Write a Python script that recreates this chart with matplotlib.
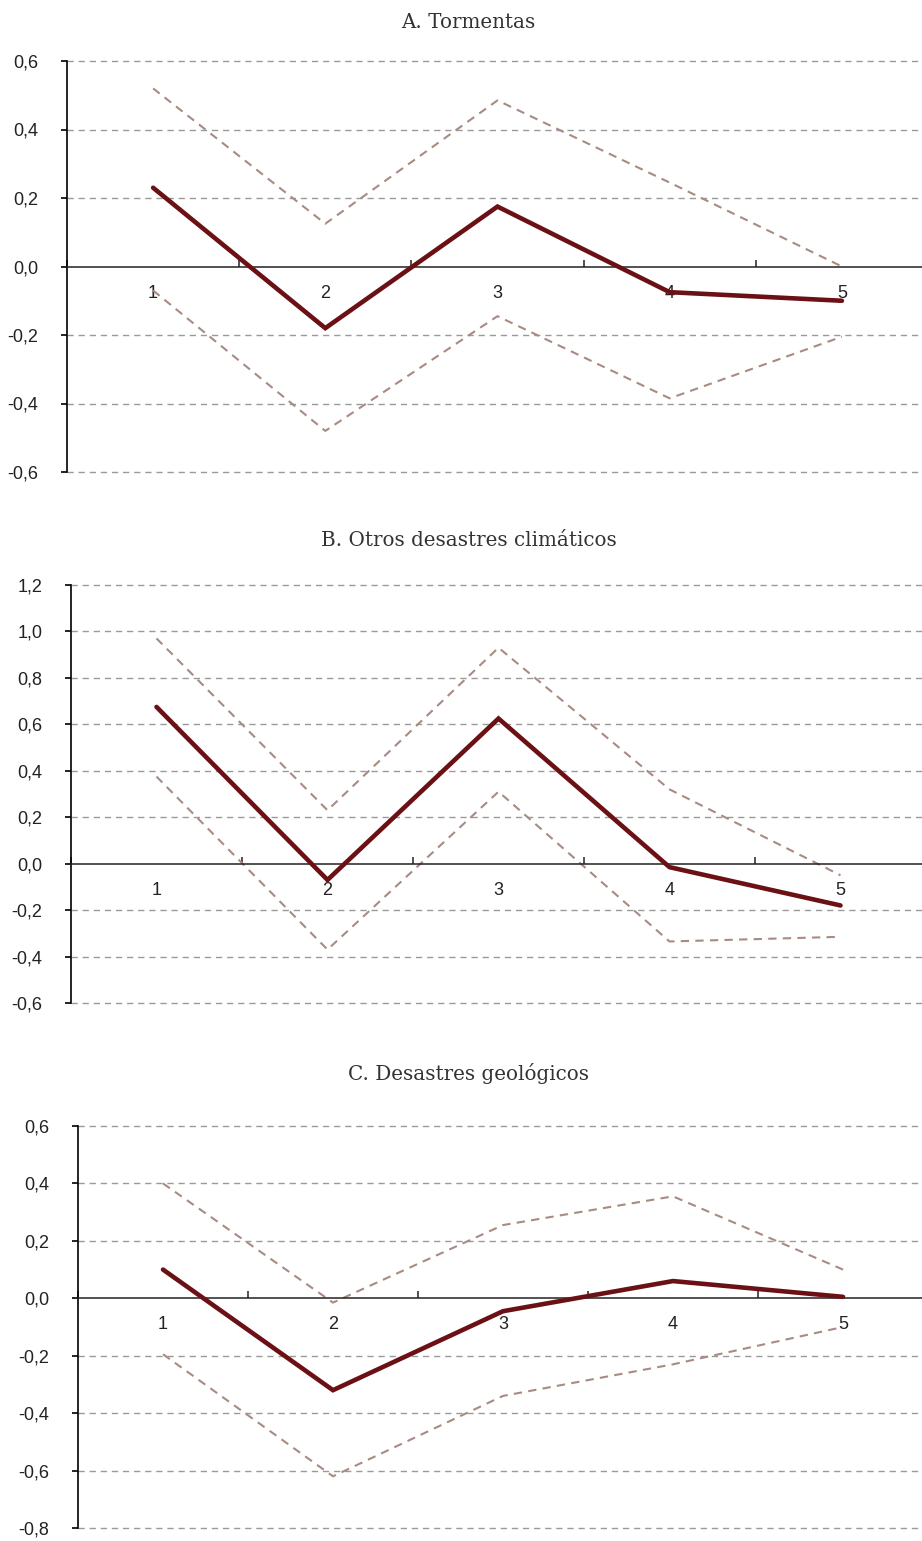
import matplotlib
matplotlib.use("Agg")
import matplotlib.pyplot as plt
import numpy as np
from matplotlib import font_manager

periods = [1, 2, 3, 4, 5]
period_labels = ["1", "2", "3", "4", "5"]

titles = ["A. Tormentas", "B. Otros desastres climáticos", "C. Desastres geológicos"]

a_mid = [0.23, -0.18, 0.175, -0.075, -0.10]
a_up = [0.52, 0.125, 0.485, 0.245, 0.0]
a_lo = [-0.07, -0.48, -0.145, -0.385, -0.205]

b_mid = [0.675, -0.07, 0.625, -0.015, -0.18]
b_up = [0.97, 0.23, 0.93, 0.32, -0.05]
b_lo = [0.375, -0.37, 0.31, -0.335, -0.315]

c_mid = [0.10, -0.32, -0.045, 0.06, 0.005]
c_up = [0.40, -0.015, 0.255, 0.355, 0.10]
c_lo = [-0.195, -0.62, -0.34, -0.23, -0.10]

a_yticks = [-0.6, -0.4, -0.2, 0.0, 0.2, 0.4, 0.6]
b_yticks = [-0.6, -0.4, -0.2, 0.0, 0.2, 0.4, 0.6, 0.8, 1.0, 1.2]
c_yticks = [-0.8, -0.6, -0.4, -0.2, 0.0, 0.2, 0.4, 0.6]

W, H = 922, 1541
fig = plt.figure(figsize=(W / 100, H / 100), dpi=100)

tick_family = ["Liberation Sans", "DejaVu Sans"]
title_family = ["DejaVu Serif"]

MID = "#6b1116"
CI = "#a88b82"
GRID = "#9a9a9a"

# pixel boxes: left, right, top(pix of ymax), bottom(pix of ymin)
boxes = [(67, 928, 61, 472), (71, 926, 585, 1003), (78, 928, 1126, 1528)]
title_y = [22, 541, 1073]
datasets = [(a_mid, a_up, a_lo, a_yticks), (b_mid, b_up, b_lo, b_yticks), (c_mid, c_up, c_lo, c_yticks)]

for i, ((mid, up, lo, yt), (l, r, t, b)) in enumerate(zip(datasets, boxes)):
    ax = fig.add_axes([l / W, 1 - b / H, (r - l) / W, (b - t) / H])
    ax.set_xlim(0.5, 5.5)
    ax.set_ylim(yt[0], yt[-1])
    for v in yt:
        if v != 0:
            ax.axhline(v, color=GRID, lw=1.0, ls=(0, (4.5, 3.5)), zorder=1, clip_on=False)
    ax.plot(periods, up, color=CI, lw=1.5, ls=(0, (4, 3)), zorder=2)
    ax.plot(periods, lo, color=CI, lw=1.5, ls=(0, (4, 3)), zorder=2)
    ax.plot(periods, mid, color=MID, lw=3.3, solid_capstyle="round", solid_joinstyle="miter", zorder=3)

    for s in ["top", "right"]:
        ax.spines[s].set_visible(False)
    ax.spines["bottom"].set_position(("data", 0))
    ax.spines["bottom"].set_color("#222222")
    ax.spines["bottom"].set_linewidth(1.1)
    ax.spines["left"].set_color("#000000")
    ax.spines["left"].set_linewidth(1.2)

    ax.set_yticks(yt)
    ax.set_yticklabels([f"{v:.1f}".replace(".", ",").replace("-0,0", "0,0") for v in yt],
                       family=tick_family, fontsize=13, color="#222222")
    ax.tick_params(axis="y", length=4.5, width=1.2, pad=16, color="#000000")

    ax.set_xticks([0.5, 1.5, 2.5, 3.5, 4.5])
    ax.set_xticklabels([])
    ax.tick_params(axis="x", which="major", length=5, width=1.1, direction="in", color="#222222")
    ax.set_xticks(periods, minor=True)
    ax.set_xticklabels(period_labels, minor=True, family=tick_family, fontsize=13, color="#222222")
    ax.tick_params(axis="x", which="minor", length=0, pad=13)

    fig.text(0.508, 1 - title_y[i] / H, titles[i], ha="center", va="center",
             family=title_family, fontsize=14.3, color="#333333")

fig.savefig("out.png", dpi=100)
